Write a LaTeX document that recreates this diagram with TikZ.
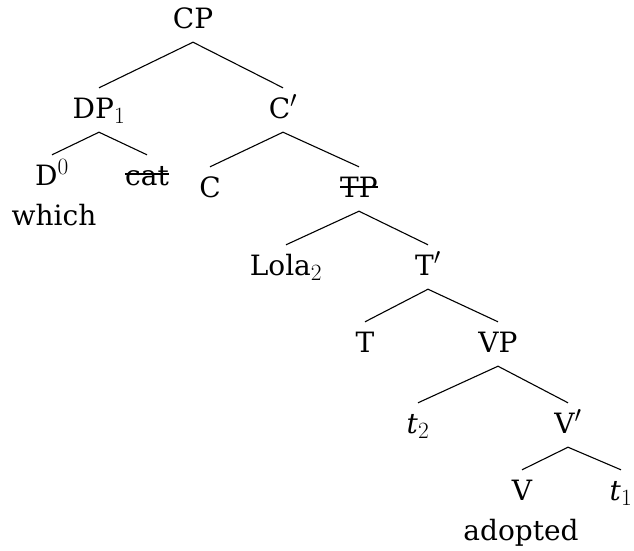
\documentclass[tikz,border=0pt]{standalone}
\usepackage{graphicx}
\usepackage{fontspec}
\setmainfont{DejaVu Serif}
\newcommand{\treelbl}[1]{\scalebox{1.1254}{\Huge #1}}
\begin{document}
\begin{tikzpicture}[x=1pt,y=-1pt,
  lab/.style={inner sep=0pt, text height=30pt, text depth=14pt, anchor=base},
  plain/.style={inner sep=0pt, anchor=base},
  branch/.style={line width=1.1pt},
  strike/.style={line width=1.1pt}]
\useasboundingbox (0,0) rectangle (634,550);
\node[lab] (CP) at (193,28) {\treelbl{CP}};
\node[lab] (DP) at (99,118) {\treelbl{DP$_1$}};
\node[lab] (Cbar) at (283,118) {\treelbl{C$'$}};
\node[lab] (D0) at (52,185) {\treelbl{D$^0$}};
\node[lab] (cat) at (147,185) {\treelbl{cat}};
\node[plain] (which) at (54,225) {\treelbl{which}};
\node[lab] (C) at (210,197) {\treelbl{C}};
\node[lab] (TP) at (359,197) {\treelbl{TP}};
\node[lab] (Lola) at (286,275) {\treelbl{Lola$_2$}};
\node[lab] (Tbar) at (428,275) {\treelbl{T$'$}};
\node[lab] (T) at (365,352) {\treelbl{T}};
\node[lab] (VP) at (498,352) {\treelbl{VP}};
\node[lab] (t2) at (418,433) {\treelbl{\textit{t}$_2$}};
\node[lab] (Vbar) at (568,433) {\treelbl{V$'$}};
\node[lab] (V) at (522,500) {\treelbl{V}};
\node[lab] (t1) at (621,500) {\treelbl{\textit{t}$_1$}};
\node[plain] (adopted) at (521,540) {\treelbl{adopted}};
\draw[branch] (CP.south) -- (DP.north);
\draw[branch] (CP.south) -- (Cbar.north);
\draw[branch] (DP.south) -- (D0.north);
\draw[branch] (DP.south) -- (cat.north);
\draw[branch] (Cbar.south) -- (C.north);
\draw[branch] (Cbar.south) -- (TP.north);
\draw[branch] (TP.south) -- (Lola.north);
\draw[branch] (TP.south) -- (Tbar.north);
\draw[branch] (Tbar.south) -- (T.north);
\draw[branch] (Tbar.south) -- (VP.north);
\draw[branch] (VP.south) -- (t2.north);
\draw[branch] (VP.south) -- (Vbar.north);
\draw[branch] (Vbar.south) -- (V.north);
\draw[branch] (Vbar.south) -- (t1.north);
\draw[strike] ([yshift=11pt]cat.base west) -- ([yshift=11pt]cat.base east);
\draw[strike] ([yshift=10pt]TP.base west) -- ([yshift=10pt]TP.base east);
\end{tikzpicture}
\end{document}
